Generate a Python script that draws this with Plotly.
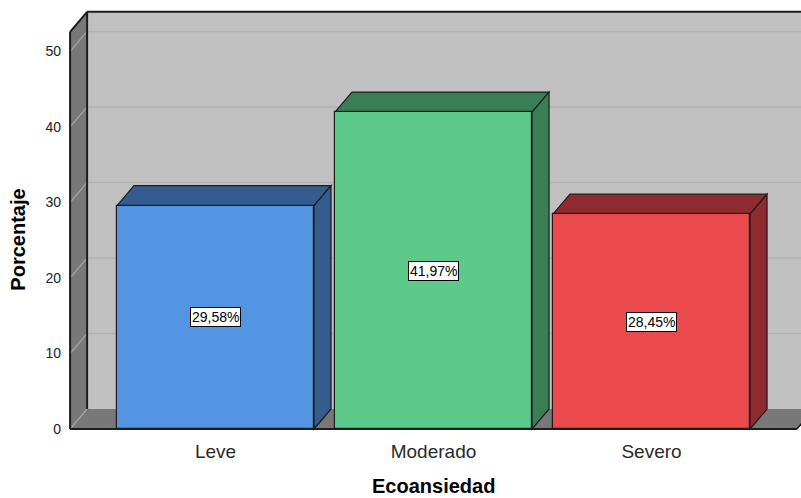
import plotly.graph_objects as go

# Data
categories = ["Leve", "Moderado", "Severo"]
values = [29.58, 41.97, 28.45]
value_labels = ["29,58%", "41,97%", "28,45%"]
y_ticks = [0, 10, 20, 30, 40, 50]

# Styling
front_colors = ["#5495e3", "#5dca8b", "#eb4a4d"]
dark_colors = ["#345c8f", "#3a7e55", "#8f2b2e"]
WALL = "#c0c0c0"
SIDE = "#787878"
EDGE = "#1c1c1c"
FONT = "Liberation Sans, Arial, sans-serif"

# 3D frame geometry (category / percent units)
BW = 0.904          # bar width
DX, DY = 0.078, 2.65  # depth offset
XL, XR = -0.667, 2.667
YTOP = 52.6
XRANGE = [-0.6858, 2.6858]
YRANGE = [-0.53, 55.76]

xs = list(range(len(categories)))

fig = go.Figure()
fig.add_trace(go.Bar(
    x=xs, y=values, width=BW,
    marker=dict(color=front_colors, line=dict(color=EDGE, width=1.2)),
    hoverinfo="skip", showlegend=False,
))

shapes = []


def poly(pts, fill, line_color=None, width=0, layer="below"):
    path = "M " + " L ".join(f"{x},{y}" for x, y in pts) + " Z"
    shapes.append(dict(type="path", path=path, xref="x", yref="y",
                       fillcolor=fill, layer=layer,
                       line=dict(color=line_color or fill, width=width)))


def seg(x0, y0, x1, y1, color, width, layer="below"):
    shapes.append(dict(type="line", x0=x0, y0=y0, x1=x1, y1=y1,
                       xref="x", yref="y", layer=layer,
                       line=dict(color=color, width=width)))


# back wall
poly([(XL + DX, DY), (XR + 1, DY), (XR + 1, YTOP + DY), (XL + DX, YTOP + DY)], WALL)
for v in y_ticks[1:]:
    seg(XL + DX, v + DY, XR + 1, v + DY, "#b2b2b2", 1.5)
# floor
poly([(XL, 0), (XR, 0), (XR + DX, DY), (XL + DX, DY)], SIDE)
# left wall
poly([(XL, 0), (XL, YTOP), (XL + DX, YTOP + DY), (XL + DX, DY)], SIDE)
for v in y_ticks:
    seg(XL, v, XL + DX, v + DY, "#a4a4a4", 1.2)
# frame edges
seg(XL, 0, XL, YTOP, EDGE, 2)
seg(XL, YTOP, XL + DX, YTOP + DY, EDGE, 2)
seg(XL + DX, DY, XL + DX, YTOP + DY, EDGE, 2)
seg(XL + DX, YTOP + DY, XR + 1, YTOP + DY, EDGE, 2)
seg(XL, 0, XR, 0, EDGE, 2)
seg(XR, 0, XR + DX, DY, EDGE, 1.5)

# bar tops and sides
for x, v, dc in zip(xs, values, dark_colors):
    l, r = x - BW / 2, x + BW / 2
    poly([(l, v), (l + DX, v + DY), (r + DX, v + DY), (r, v)], dc, EDGE, 1.2)
    poly([(r, 0), (r, v), (r + DX, v + DY), (r + DX, DY)], dc, EDGE, 1.2)

annotations = []
for x, v, t in zip(xs, values, value_labels):
    annotations.append(dict(
        x=x, y=v / 2, xref="x", yref="y", text=t, showarrow=False,
        font=dict(family=FONT, size=14, color="#000"),
        bgcolor="#ffffff", bordercolor="#000000", borderwidth=1, borderpad=1,
    ))

annotations.append(dict(
    x=0.5, y=-0.124, xref="paper", yref="paper", text="<b>Ecoansiedad</b>",
    showarrow=False, xanchor="center", yanchor="middle",
    font=dict(family=FONT, size=20, color="#000"),
))
annotations.append(dict(
    x=-0.0653, y=0.455, xref="paper", yref="paper", text="<b>Porcentaje</b>",
    showarrow=False, xanchor="center", yanchor="middle", textangle=-90,
    font=dict(family=FONT, size=20, color="#000"),
))

fig.update_layout(
    width=801, height=498,
    margin=dict(l=66, r=0, t=8, b=65),
    paper_bgcolor="#ffffff", plot_bgcolor="#ffffff",
    shapes=shapes, annotations=annotations,
    bargap=0,
    xaxis=dict(range=XRANGE, tickvals=xs, ticktext=categories,
               showgrid=False, zeroline=False, showline=False,
               ticks="", ticklabelstandoff=5,
               tickfont=dict(family=FONT, size=19, color="#2a2a2a")),
    yaxis=dict(range=YRANGE, tickvals=y_ticks,
               showgrid=False, zeroline=False, showline=False,
               ticks="", ticklabelstandoff=4,
               tickfont=dict(family=FONT, size=14, color="#222")),
)

fig.write_html("out.html")
